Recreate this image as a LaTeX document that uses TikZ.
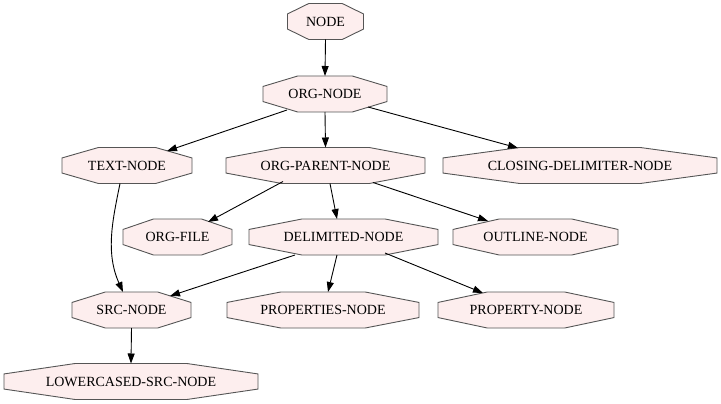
\documentclass[tikz,border=0pt]{standalone}
\usepackage{fontspec}
\setmainfont{Liberation Serif}
\usetikzlibrary{backgrounds,calc,arrows.meta}
\definecolor{octfill}{HTML}{FDEEEE}
\definecolor{octline}{HTML}{555555}
\tikzset{
  box/.style={minimum height=36pt, inner sep=0pt, outer sep=0pt,
    font=\fontsize{14}{16}\selectfont},
  octo/.style={fill=octfill, draw=octline, line width=0.9pt},
  link/.style={-{Triangle[length=10pt,width=7pt]}, line width=0.9pt}
}

\begin{document}
\begin{tikzpicture}[x=1pt,y=-1pt]
        \useasboundingbox (0,0) rectangle (721,404);

        \node[box, minimum width=76pt] (nd) at (325.5,21.5) {NODE};
        \node[box, minimum width=124pt] (orgnode) at (325,94) {ORG-NODE};
        \node[box, minimum width=130pt] (textnode) at (127,165.5) {TEXT-NODE};
        \node[box, minimum width=199pt] (parentnode) at (325.5,165.5) {ORG-PARENT-NODE};
        \node[box, minimum width=274pt] (closingnode) at (580,165.5) {CLOSING-DELIMITER-NODE};
        \node[box, minimum width=109pt] (orgfile) at (177.5,237) {ORG-FILE};
        \node[box, minimum width=189pt] (delimnode) at (343.5,237) {DELIMITED-NODE};
        \node[box, minimum width=165pt] (outlinenode) at (535.5,237) {OUTLINE-NODE};
        \node[box, minimum width=119pt] (srcnode) at (131.5,310) {SRC-NODE};
        \node[box, minimum width=192pt] (propsnode) at (323,310) {PROPERTIES-NODE};
        \node[box, minimum width=176pt] (propnode) at (526,310) {PROPERTY-NODE};
        \node[box, minimum width=254pt] (lowersrc) at (131,381.5) {LOWERCASED-SRC-NODE};

        % octagons behind the labels
        \begin{scope}[on background layer]
        \foreach \nm in {nd,orgnode,textnode,parentnode,closingnode,orgfile,
            delimnode,outlinenode,srcnode,propsnode,propnode,lowersrc}{
          \filldraw[octo] let \p1=(\nm.south west), \p2=(\nm.north east), \p3=(\nm.center),
            \n1={0.28*(\x2-\x1)}, \n2={0.21*(\y2-\y1)} in
            (\x1,\y3+\n2) -- (\x1+\n1,\y2) -- (\x2-\n1,\y2) -- (\x2,\y3+\n2)
            -- (\x2,\y3-\n2) -- (\x2-\n1,\y1) -- (\x1+\n1,\y1) -- (\x1,\y3-\n2) -- cycle;
        }
        \end{scope}

        % edges
        \draw[link] (nd.south) -- (orgnode.north);
        \draw[link] ([shift={(-38,16)}]orgnode.center) -- ([shift={(40,-14.5)}]textnode.center);
        \draw[link] (orgnode.south) -- (parentnode.north);
        \draw[link] ([shift={(43,13)}]orgnode.center) -- ([shift={(-62,-17.5)}]closingnode.center);
        \draw[link] ([xshift=-7pt]textnode.south) .. controls +(-7,35) and +(-18,-40) .. ([shift={(-8.5,-18)}]srcnode.center);
        \draw[link] ([shift={(-42.5,16)}]parentnode.center) -- ([shift={(30.5,-15)}]orgfile.center);
        \draw[link] ([shift={(4.5,18)}]parentnode.center) -- ([shift={(-6.5,-18)}]delimnode.center);
        \draw[link] ([shift={(47.5,17)}]parentnode.center) -- ([shift={(-47.5,-16)}]outlinenode.center);
        \draw[link] ([shift={(-48.5,18)}]delimnode.center) -- ([shift={(38.5,-14)}]srcnode.center);
        \draw[link] ([shift={(-6.5,18)}]delimnode.center) -- ([shift={(5,-18)}]propsnode.center);
        \draw[link] ([shift={(41.5,16)}]delimnode.center) -- ([shift={(-43,-17)}]propnode.center);
        \draw[link] (srcnode.south) -- (lowersrc.north);

\end{tikzpicture}
\end{document}
